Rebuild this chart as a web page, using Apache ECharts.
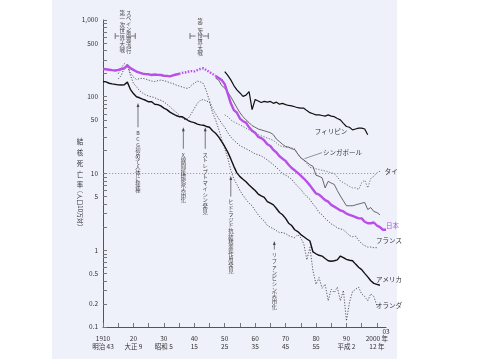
<!DOCTYPE html>
<html><head><meta charset="utf-8">
<script src="https://cdn.jsdelivr.net/npm/echarts@6/dist/echarts.min.js"></script>
<style>html,body{margin:0;padding:0;background:#fff}#c{width:479px;height:359px}</style>
</head><body><div id="c"></div>
<script>
// ---- data (deaths per 100,000) ----
const japan = [[1910,230],[1911,228],[1912,225],[1913,222],[1914,220],[1915,224],[1916,230],[1917,235],[1918,257],[1919,236],[1920,224],[1921,213],[1922,206],[1923,200],[1924,197],[1925,196],[1926,192],[1927,195],[1928,193],[1929,192],[1930,188],[1931,187],[1932,184],[1933,190],[1934,195],[1935,198],[1936,205],[1937,207],[1938,212],[1939,216],[1940,214],[1941,222],[1942,230],[1943,235],[1947,187],[1948,176],[1949,165],[1950,146],[1951,110],[1952,82],[1953,67],[1954,62],[1955,52],[1956,48],[1957,46],[1958,40],[1959,36],[1960,34],[1961,30],[1962,29],[1963,27],[1964,24],[1965,22.8],[1966,20.3],[1967,18.8],[1968,16.8],[1969,15.6],[1970,14.6],[1971,13],[1972,11.8],[1973,11],[1974,10.2],[1975,9.4],[1976,8.6],[1977,7.8],[1978,7.0],[1979,6.2],[1980,5.5],[1981,5.3],[1982,4.9],[1983,4.5],[1984,4.3],[1985,3.9],[1986,3.7],[1987,3.5],[1988,3.3],[1989,3.2],[1990,3.0],[1991,2.9],[1992,2.8],[1993,2.7],[1994,2.6],[1995,2.6],[1996,2.35],[1997,2.25],[1998,2.25],[1999,2.3],[2000,2.1],[2001,2.0],[2002,1.85],[2003,1.85]];
const japanWarFrom = 1935, japanWarTo = 1947;

const usa = [[1910,158],[1911,156],[1912,150],[1913,147],[1914,145],[1915,143],[1916,142],[1917,143],[1918,155],[1919,125],[1920,110],[1921,100],[1922,97],[1923,93],[1924,90],[1925,86],[1926,86],[1927,80],[1928,79],[1929,76],[1930,71],[1931,68],[1932,63],[1933,60],[1934,57],[1935,55],[1936,55],[1937,52],[1938,49],[1939,47],[1940,46],[1941,44],[1942,43],[1943,42.5],[1944,41],[1945,40],[1946,36],[1947,33.5],[1948,30],[1949,26],[1950,22.5],[1951,19],[1952,15.5],[1953,12.4],[1954,10.2],[1955,9.1],[1956,8.4],[1957,7.8],[1958,7.1],[1959,6.5],[1960,6.0],[1961,5.4],[1962,5.1],[1963,4.9],[1964,4.3],[1965,4.1],[1966,3.9],[1967,3.5],[1968,3.1],[1969,2.9],[1970,2.6],[1971,2.25],[1972,2.1],[1973,1.85],[1974,1.75],[1975,1.6],[1976,1.5],[1977,1.4],[1978,1.32],[1979,0.95],[1980,0.9],[1981,0.86],[1982,0.84],[1983,0.78],[1984,0.73],[1985,0.72],[1986,0.73],[1987,0.75],[1988,0.84],[1989,0.8],[1990,0.76],[1991,0.74],[1992,0.73],[1993,0.66],[1994,0.6],[1995,0.56],[1996,0.5],[1997,0.45],[1998,0.4],[1999,0.37],[2000,0.36],[2001,0.35]];

const france = [[1915,200],[1916,235],[1917,270],[1918,252],[1919,205],[1920,180],[1921,168],[1922,172],[1923,174],[1924,170],[1925,165],[1926,160],[1927,158],[1928,162],[1929,165],[1930,162],[1931,158],[1932,152],[1933,148],[1934,142],[1935,138],[1936,134],[1937,130],[1938,128],[1939,140],[1940,150],[1941,160],[1942,156],[1943,148],[1944,118],[1945,88],[1946,70],[1947,60],[1948,52],[1949,45],[1950,40],[1951,34],[1952,30],[1953,27],[1954,25],[1955,23],[1956,22],[1957,21],[1958,20],[1959,19],[1960,18],[1961,17.5],[1962,17],[1963,16],[1964,15],[1965,14],[1966,13],[1967,12],[1968,11],[1969,10],[1970,9.5],[1971,9],[1972,8.4],[1973,7.5],[1974,6.8],[1975,6.2],[1976,5.5],[1977,5],[1978,4.6],[1979,4],[1980,3.6],[1981,3.1],[1982,2.9],[1983,2.6],[1984,2.4],[1985,2.2],[1986,2.1],[1987,1.95],[1988,1.9],[1989,1.85],[1990,1.7],[1991,1.55],[1992,1.5],[1993,1.53],[1994,1.35],[1995,1.22],[1996,1.15],[1997,1.1],[1998,1.1],[1999,1.08],[2000,1.08]];

const netherlands = [[1915,170],[1916,190],[1917,235],[1918,265],[1919,190],[1920,150],[1921,135],[1922,120],[1923,112],[1924,106],[1925,102],[1926,100],[1927,97],[1928,93],[1929,90],[1930,86],[1931,80],[1932,74],[1933,68],[1934,63],[1935,58],[1936,53],[1937,50],[1938,52],[1939,60],[1940,70],[1941,82],[1942,90],[1943,92],[1944,88],[1945,85],[1946,62],[1947,50],[1948,38],[1949,28],[1950,21],[1951,16],[1952,11],[1953,8.5],[1954,7.2],[1955,6],[1956,5.2],[1957,4.6],[1958,4.1],[1959,3.8],[1960,3.3],[1961,2.9],[1962,2.6],[1963,2.4],[1964,2.1],[1965,2.0],[1966,1.9],[1967,1.8],[1968,1.7],[1969,1.7],[1970,1.65],[1971,1.55],[1972,1.5],[1973,1.46],[1974,1.6],[1975,1.45],[1976,1.2],[1977,0.75],[1978,1.09],[1979,0.54],[1980,0.36],[1981,0.44],[1982,0.32],[1983,0.36],[1984,0.22],[1985,0.31],[1986,0.28],[1987,0.33],[1988,0.22],[1989,0.30],[1990,0.12],[1991,0.21],[1992,0.29],[1993,0.31],[1994,0.33],[1995,0.27],[1996,0.25],[1997,0.22],[1998,0.27],[1999,0.25],[2000,0.19]];

const philippines = [[1950,213],[1951,190],[1952,166],[1953,140],[1954,123],[1955,112],[1956,101],[1957,105],[1958,117],[1959,68],[1960,92],[1961,88],[1962,84],[1963,87],[1964,85],[1965,87],[1966,82],[1967,85],[1968,80],[1969,82],[1970,79],[1971,77],[1972,76],[1973,74],[1974,72],[1975,71],[1976,71],[1977,66],[1978,62],[1979,60],[1980,58],[1981,58],[1982,57],[1983,56],[1984,58],[1985,56],[1986,55],[1987,52],[1988,50],[1989,45],[1990,41],[1991,40],[1992,37],[1993,38],[1994,39],[1995,39],[1996,38],[1997,32]];

const singapore = [[1947,175],[1948,165],[1949,140],[1950,130],[1951,115],[1952,100],[1953,85],[1954,72],[1955,62],[1956,55],[1957,50],[1958,46],[1959,42],[1960,40],[1961,38],[1962,37],[1963,36],[1964,35],[1965,34],[1966,32],[1967,28],[1968,26],[1969,24],[1970,22.5],[1971,22],[1972,21],[1973,20.5],[1974,18],[1975,16],[1976,15],[1977,14],[1978,13],[1979,12.4],[1980,9.5],[1981,9.2],[1982,8.8],[1983,6.5],[1984,7.9],[1985,7.5],[1986,7.2],[1987,6],[1988,5.1],[1989,4.4],[1990,3.8],[1991,3.8],[1992,3.8],[1993,3.9],[1994,4.0],[1995,4.1],[1996,4.2],[1997,3.4],[1998,3.6],[1999,3.2],[2000,3.1],[2001,2.9]];

const thailand = [[1950,58],[1951,55],[1952,50],[1953,47],[1954,45],[1955,43],[1956,41],[1957,39],[1958,37],[1959,35],[1960,33],[1961,32],[1962,31],[1963,30],[1964,29],[1965,28],[1966,27],[1967,25],[1968,23],[1969,22.5],[1970,22],[1971,22],[1972,21.6],[1973,21],[1974,18],[1975,16],[1976,15],[1977,13.5],[1978,12],[1979,11.8],[1980,11.5],[1981,11.3],[1982,11],[1983,10.8],[1984,10.5],[1985,10.2],[1986,10],[1987,9],[1988,8],[1989,7.6],[1990,7.2],[1991,6.8],[1992,6.5],[1993,6.5],[1994,6.2],[1995,7.6],[1996,8.2],[1997,6.5],[1998,8.6],[1999,9.2],[2000,10.2],[2001,10.7]];

const referenceLevel = 10;
const yLabelValues = [0.1,0.2,0.5,1,5,10,50,100,500,1000];
const yTickValues = [0.1,0.2,0.3,0.4,0.5,0.6,0.7,0.8,0.9,1,2,3,4,5,6,7,8,9,10,20,30,40,50,60,70,80,90,100,200,300,400,500,600,700,800,900,1000];
const xYearLabels = {1910:'1910',1920:'20',1930:'30',1940:'40',1950:'50',1960:'60',1970:'70',1980:'80',1990:'90',2000:'2000 年'};
const xEraLabels  = {1910:'明治 43',1920:'大正 9',1930:'昭和 5',1940:'15',1950:'25',1960:'35',1970:'45',1980:'55',1990:'平成 2',2000:'12 年'};
const xEndLabel = '03';

const seriesNames = {japan:'日本',usa:'アメリカ',france:'フランス',netherlands:'オランダ',philippines:'フィリピン',singapore:'シンガポール',thailand:'タイ'};
const events = [
  {year:1921.5, text:'BCG初めて人体に接種'},
  {year:1936.4, text:'X線間接撮影実用化'},
  {year:1943.6, text:'ストレプトマイシン発見'},
  {year:1952,   text:'ヒドラジド抗結核薬作用発見'},
  {year:1966.3, text:'リファンピシン実用化'}
];
const wars = [
  {from:1914, to:1920.6, texts:['第一次世界大戦','スペイン風邪流行']},
  {from:1938.6, to:1944.6, texts:['第二次世界大戦']}
];

// ---- chart ----
const FONT = '"Noto Sans CJK JP","Noto Sans",sans-serif';
const chart = echarts.init(document.getElementById('c'));
const PURPLE = '#b94fe8';
const japanPre = japan.filter(d => d[0] <= japanWarFrom);
const japanWar = japan.filter(d => d[0] >= japanWarFrom && d[0] <= japanWarTo);
const japanPost = japan.filter(d => d[0] >= japanWarTo);

function line(name, data, color, width, type, z) {
  return {type:'line', name, data, showSymbol:false, symbol:'none', z: z||2,
    lineStyle:{color, width, type: type||'solid'}, emphasis:{disabled:true}};
}

chart.setOption({
  animation:false,
  backgroundColor:'#ffffff',
  grid:{left:103, right:93, top:20, bottom:32, containLabel:false},
  xAxis:{type:'value', min:1910, max:2003, interval:5,
    axisLine:{lineStyle:{color:'#555', width:1}},
    axisTick:{inside:true, length:4, lineStyle:{color:'#777'}},
    splitLine:{show:false},
    axisLabel:{margin:8, fontSize:6.5, lineHeight:8, color:'#333', fontFamily:FONT, showMaxLabel:false,
      formatter: v => xYearLabels[v] ? xYearLabels[v] + '\n' + xEraLabels[v] : ''}
  },
  yAxis:{type:'log', logBase:10, min:0.1, max:1000,
    axisLine:{show:true, lineStyle:{color:'#555', width:1}},
    axisTick:{show:true, inside:true, length:4, lineStyle:{color:'#777'}, customValues: yTickValues},
    splitLine:{show:false},
    axisLabel:{margin:5, fontSize:6.5, color:'#333', fontFamily:FONT, customValues: yLabelValues,
      formatter: v => v >= 1000 ? v.toLocaleString('en-US') : String(v)}
  },
  series:[
    Object.assign(line(seriesNames.thailand, thailand, '#555', 0.8, [1.2,1.6], 2), {
      markLine:{silent:true, symbol:'none', label:{show:false},
        lineStyle:{color:'#888', width:0.8, type:[1.2,1.8]},
        data:[[{coord:[1910, referenceLevel]},{coord:[2000, referenceLevel]}]]}
    }),
    line(seriesNames.netherlands, netherlands, '#333', 0.8, [1.2,1.6], 2),
    line(seriesNames.france, france, '#333', 0.8, [1.2,1.6], 2),
    line(seriesNames.singapore, singapore, '#444', 0.8, 'solid', 3),
    line(seriesNames.philippines, philippines, '#111', 1.2, 'solid', 3),
    line(seriesNames.usa, usa, '#111', 1.4, 'solid', 3),
    line(seriesNames.japan, japanPre, PURPLE, 2.4, 'solid', 5),
    line(seriesNames.japan, japanWar, PURPLE, 2.4, [1.5,1.5], 5),
    line(seriesNames.japan, japanPost, PURPLE, 2.4, 'solid', 5)
  ]
});

const px = (x, y) => chart.convertToPixel({gridIndex:0}, [x, y]);
const g = [];
// page background (scanned page tint)
g.push({type:'rect', z:-10, silent:true, shape:{x:52, y:0, width:345, height:359}, style:{fill:'#eef0fa'}});

function vtext(str, x, y, size, lh, fill) {
  const chars = Array.from(str);
  return {type:'text', z:50, x, y, style:{text:chars.join('\n'), fontSize:size, lineHeight:lh, align:'center', verticalAlign:'top', fill:fill||'#444', fontFamily:FONT}};
}
function htext(str, x, y, fill, size) {
  return {type:'text', z:50, x, y, style:{text:str, fontSize:size||6.5, align:'left', verticalAlign:'middle', fill:fill||'#333', fontFamily:FONT}};
}

// y axis title
const yTop = px(1910, 1000)[1];
const yBot = px(1910, 0.1)[1];
const yt = yTop + (yBot - yTop) * 0.38;
g.push(vtext('結核死亡率', 80, yt, 6.5, 10.7, '#333'));
g.push({type:'text', z:50, x:80, y: yt + 72, rotation:-Math.PI/2, style:{text:'（人口10万対）', fontSize:6, align:'center', verticalAlign:'middle', fill:'#333', fontFamily:FONT}});

// x end label
const endPt = px(2003, 0.1);
g.push({type:'text', z:50, x:endPt[0], y:endPt[1] + 5, style:{text:xEndLabel, fontSize:6.5, align:'center', verticalAlign:'middle', fill:'#333', fontFamily:FONT}});

// events with arrows (arrow tip value, arrow tail value)
const eventLayout = [
  {tip:83, tail:40},
  {tip:40, tail:21},
  {tip:40, tail:21},
  {tip:9.3, tail:5},
  {tip:1.32, tail:1.02}
];
events.forEach((e, i) => {
  const L = eventLayout[i];
  const a = px(e.year, L.tip), b = px(e.year, L.tail);
  g.push({type:'line', z:40, shape:{x1:a[0], y1:a[1]+3, x2:b[0], y2:b[1]}, style:{stroke:'#444', lineWidth:0.7}});
  g.push({type:'polygon', z:40, shape:{points:[[a[0]-1.4, a[1]+4],[a[0]+1.4, a[1]+4],[a[0], a[1]]]}, style:{fill:'#444'}});
  g.push(vtext(e.text, a[0], b[1] + 3, 5.3, 5.7));
});

// wars brackets
wars.forEach((w, i) => {
  const p1 = px(w.from, 600), p2 = px(w.to, 600);
  const y = p1[1] - 1;
  const stroke = {stroke:'#444', lineWidth:0.7};
  const mid = (p1[0] + p2[0]) / 2;
  const gap = w.texts.length > 1 ? 6 : 3.5;
  g.push({type:'line', z:40, shape:{x1:p1[0], y1:y-3, x2:p1[0], y2:y+3}, style:stroke});
  g.push({type:'line', z:40, shape:{x1:p2[0], y1:y-3, x2:p2[0], y2:y+3}, style:stroke});
  g.push({type:'line', z:40, shape:{x1:p1[0], y1:y, x2:mid-gap, y2:y}, style:stroke});
  g.push({type:'line', z:40, shape:{x1:mid+gap, y1:y, x2:p2[0], y2:y}, style:stroke});
  if (w.texts.length > 1) {
    g.push(vtext(w.texts[0], mid - 3, 10, 5.5, 6.1));
    g.push(vtext(w.texts[1], mid + 3.5, 10, 5.3, 5.4));
  } else {
    g.push(vtext(w.texts[0], mid + 1, 18, 5.3, 5.4));
  }
});

// series labels
const labelAnchors = [
  {name:seriesNames.philippines, at:[1979.6, 35.4]},
  {name:seriesNames.singapore, at:[1982.3, 18.7], leaderFrom:[1976.2, 15.6]},
  {name:seriesNames.thailand, at:[2002.6, 10.6]},
  {name:seriesNames.japan, at:[2003, 2.13], color:PURPLE},
  {name:seriesNames.france, at:[1999.7, 1.32]},
  {name:seriesNames.usa, at:[1999.7, 0.41]},
  {name:seriesNames.netherlands, at:[1999.7, 0.193]}
];
labelAnchors.forEach(l => {
  const p = px(l.at[0], l.at[1]);
  g.push(htext(l.name, p[0], p[1], l.color || '#333', 6.5));
  if (l.leaderFrom) {
    const q = px(l.leaderFrom[0], l.leaderFrom[1]);
    g.push({type:'line', z:40, shape:{x1:q[0], y1:q[1], x2:p[0]-1, y2:p[1]}, style:{stroke:'#555', lineWidth:0.6}});
  }
});

chart.setOption({graphic: g});
</script>
</body></html>
